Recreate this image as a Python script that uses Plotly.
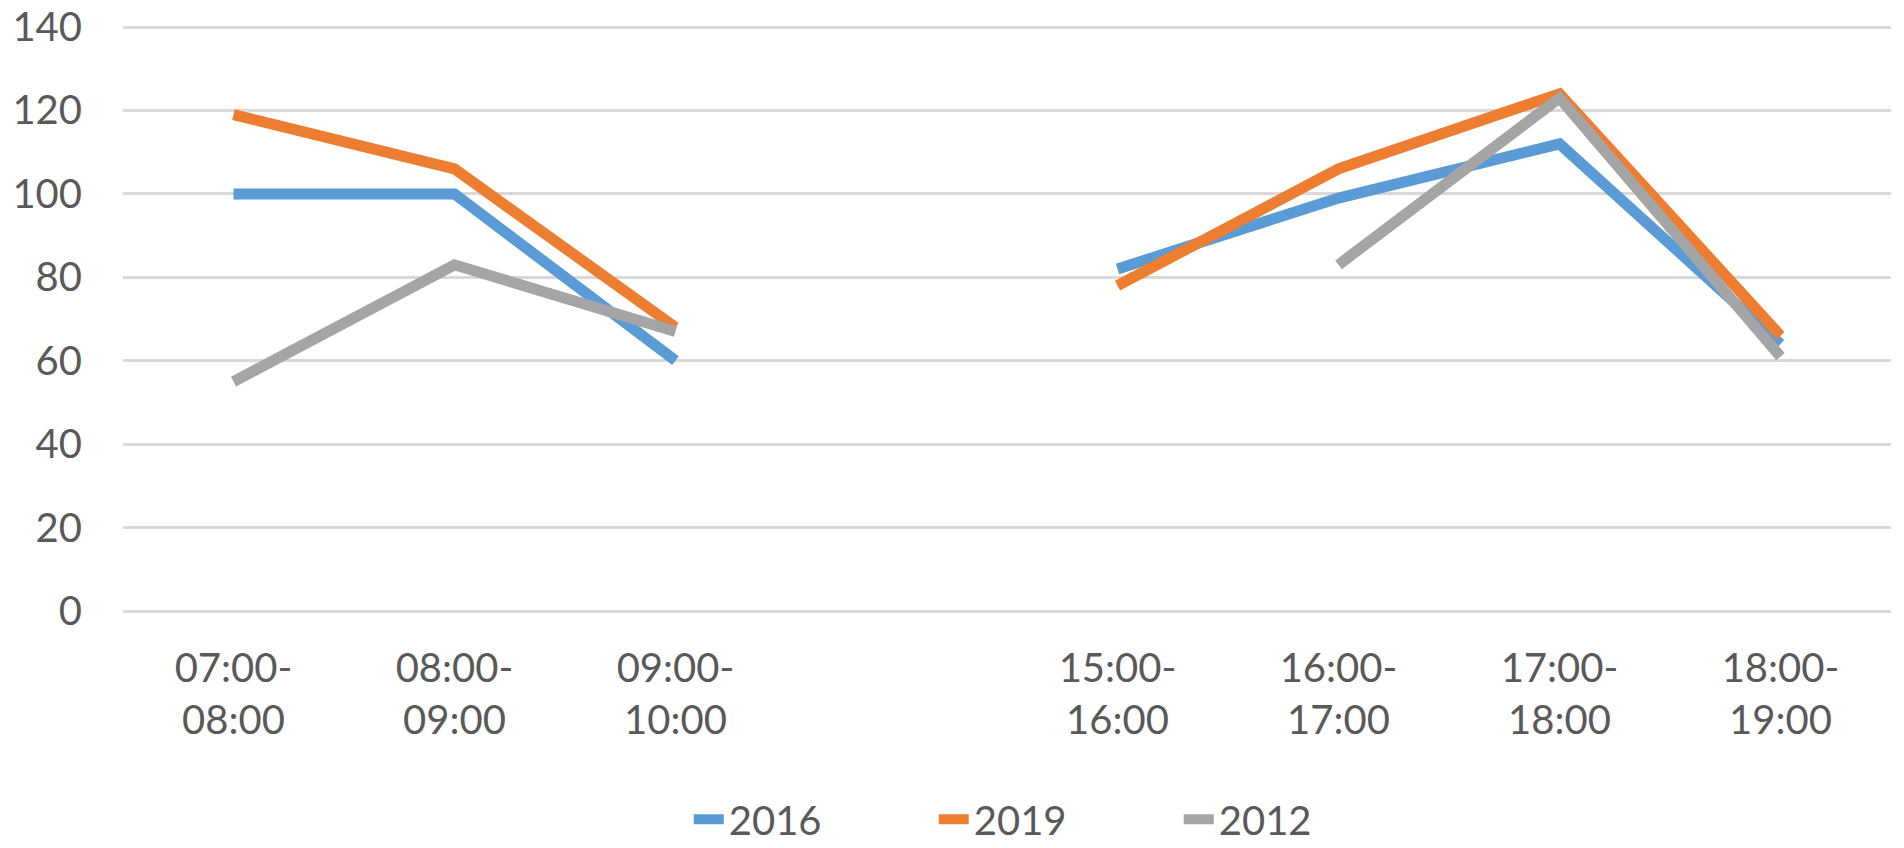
import plotly.graph_objects as go

categories = ["07:00-<br>08:00", "08:00-<br>09:00", "09:00-<br>10:00", "",
              "15:00-<br>16:00", "16:00-<br>17:00", "17:00-<br>18:00", "18:00-<br>19:00"]
series_names = ["2016", "2019", "2012"]
values_2016 = [100, 100, 60, None, 82, 99, 112, 64]
values_2019 = [119, 106, 68, None, 78, 106, 124, 66]
values_2012 = [55, 83, 67, None, None, 83, 123, 61]
y_ticks = [0, 20, 40, 60, 80, 100, 120, 140]

colors = ["#5B9BD5", "#ED7D31", "#A5A5A5"]
FONT = "Lato, Noto Sans, sans-serif"
TXT = "#595959"

x_idx = list(range(len(categories)))
fig = go.Figure()
for name, vals, col in zip(series_names, [values_2016, values_2019, values_2012], colors):
    fig.add_trace(go.Scatter(x=x_idx, y=vals, name=name, mode="lines",
                             line=dict(color=col, width=11), connectgaps=False))

fig.update_layout(
    width=1896, height=840,
    margin=dict(l=115, r=13, t=18, b=237, autoexpand=False),
    paper_bgcolor="white", plot_bgcolor="white",
    font=dict(family=FONT, size=40, color=TXT),
    showlegend=True,
    legend=dict(orientation="h", x=0.32, xanchor="left", y=-0.356, yanchor="middle",
                font=dict(family=FONT, size=40, color=TXT), itemwidth=30,
                entrywidth=200, tracegroupgap=0),
)
fig.update_xaxes(range=[-0.5, len(categories) - 0.5], tickmode="array",
                 tickvals=x_idx, ticktext=categories, showgrid=False,
                 zeroline=False, showline=False, ticks="", tickangle=0,
                 ticklabelstandoff=30, ticklabeloverflow="allow")
fig.update_yaxes(range=[0, 140.25], tickmode="array", tickvals=y_ticks,
                 showgrid=True, gridcolor="#D9D9D9", gridwidth=2.5,
                 zeroline=True, zerolinecolor="#D9D9D9", zerolinewidth=2.5,
                 showline=False, ticks="", ticklabelstandoff=40,
                 ticklabeloverflow="allow")
fig.write_html("out.html")
